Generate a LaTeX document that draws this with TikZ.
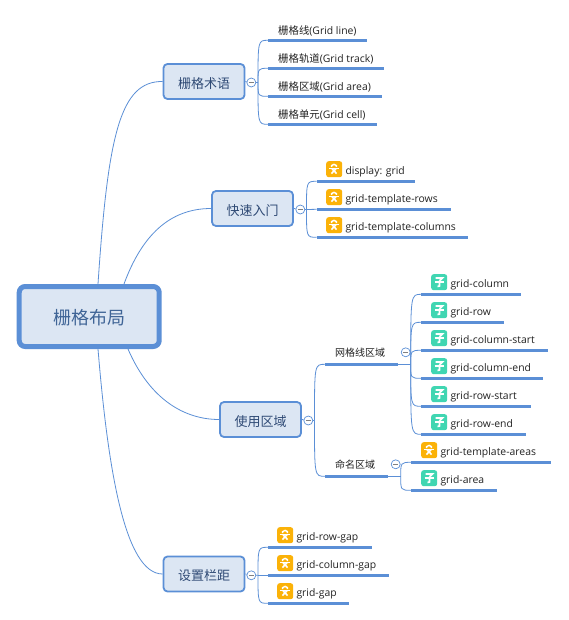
\documentclass[tikz,border=0pt]{standalone}
\usepackage{fontspec}
\setmainfont{Open Sans}
\newfontfamily\cjk{Noto Sans CJK SC}
\definecolor{linkblue}{HTML}{5B8FD6}
\definecolor{boxfill}{HTML}{DCE6F3}
\definecolor{roottext}{HTML}{3F6496}
\definecolor{topictext}{HTML}{2F4A75}
\definecolor{leaftext}{HTML}{222222}
\definecolor{iconorange}{HTML}{FBB208}
\definecolor{icongreen}{HTML}{40D6B2}
\tikzset{
  x=1pt,y=-1pt,
  rootbox/.style={draw=linkblue,fill=boxfill,line width=5pt,rounded corners=6pt,minimum width=140pt,minimum height=60pt,inner sep=0pt,text=roottext,text height=18pt,text depth=2.3pt,font=\cjk\fontsize{18}{20}\selectfont},
  topicbox/.style={draw=linkblue,fill=boxfill,line width=1.8pt,rounded corners=4pt,minimum width=81pt,minimum height=35pt,inner sep=0pt,text=topictext,text height=15.2pt,text depth=2pt,font=\cjk\fontsize{13}{15}\selectfont},
  conn/.style={draw=linkblue,line width=0.8pt},
  under/.style={draw=linkblue,line width=2.8pt},
  toggle/.style={circle,draw=linkblue,fill=white,line width=0.7pt,minimum size=9pt,inner sep=0pt},
  minusbar/.style={draw=gray,line width=0.7pt},
  leaflabel/.style={anchor=west,inner sep=0pt,yshift=-1.5pt,text=leaftext,font=\fontsize{10.4}{12}\selectfont},
  grouplabel/.style={anchor=west,inner sep=0pt,text=leaftext,font=\cjk\fontsize{10}{12}\selectfont},
  iconbox/.style={rounded corners=2.5pt,minimum size=16pt,inner sep=0pt,anchor=north west},
  glyph/.style={draw=white,line width=1.6pt},
}
\newcommand{\leafitem}[7]{%
  \node[leaflabel] (#1) at (#2,#3) {#7};
  \coordinate (#1s) at (#4,#6);
  \coordinate (#1e) at (#5,#6);
  \draw[under] (#1s) -- (#1e);
}
\newcommand{\orangeicon}[3]{%
  \node[iconbox,fill=iconorange] (#1) at (#2,#3) {};
  \begin{scope}[shift={(#2,#3)}]
    \draw[glyph,line width=1.4pt] (5.6,6) -- (5.6,4.6) -- (8,3.4) -- (10.4,4.6) -- (10.4,6);
    \draw[glyph] (3,7.6) -- (13,7.6);
    \draw[glyph] (6,7.6) -- (10.6,12.6) (10,7.6) -- (5.4,12.6);
  \end{scope}
}
\newcommand{\greenicon}[3]{%
  \node[iconbox,fill=icongreen] (#1) at (#2,#3) {};
  \begin{scope}[shift={(#2,#3)}]
    \draw[glyph] (4.5,4) -- (11.5,4) -- (8.5,6.8);
    \draw[glyph] (3.5,8) -- (12.5,8);
    \draw[glyph] (8.5,6.8) -- (8.5,12) -- (6.5,12.5);
  \end{scope}
}
\newcommand{\fork}[2]{\draw[conn] (#1) .. controls (#1|-#2) .. (#2);}
\newcommand{\togglemark}[1]{\draw[minusbar] ([xshift=-2.5pt]#1.center) -- ([xshift=2.5pt]#1.center);}
\begin{document}
\begin{tikzpicture}
\useasboundingbox (0,0) rectangle (568,620);
\fill[white] (0,0) rectangle (568,620);

% main topics
\node[rootbox] (root) at (89.2,316.5) {栅格布局};
\node[topicbox] (terms) at (204,81.5) {栅格术语};
\node[topicbox] (quick) at (252.5,208.5) {快速入门};
\node[topicbox] (area) at (260.5,419.5) {使用区域};
\node[topicbox] (gap) at (204,574) {设置栏距};

% root links
\coordinate (r1) at (98,284);
\coordinate (r2) at (124,284);
\coordinate (r3) at (128,349);
\coordinate (r4) at (98,349);
\draw[conn] (r1) .. controls (108,135) and (120,81) .. (terms.west);
\draw[conn] (r2) .. controls (142,235) and (170,208.5) .. (quick.west);
\draw[conn] (r3) .. controls (150,400) and (185,419.5) .. (area.west);
\draw[conn] (r4) .. controls (108,470) and (125,574) .. (gap.west);

% ---- terms
\coordinate (f1) at (258,82.5);
\node[toggle] (t1) at (251.3,82.5) {};
\leafitem{a1}{278}{29.3}{268}{367}{40.3}{{\cjk 栅格线}(Grid line)}
\leafitem{a2}{278}{57.3}{268}{383.5}{68.3}{{\cjk 栅格轨道}(Grid track)}
\leafitem{a3}{278}{85.3}{268}{381.5}{96.3}{{\cjk 栅格区域}(Grid area)}
\leafitem{a4}{278}{113.3}{268}{376.5}{124.3}{{\cjk 栅格单元}(Grid cell)}
\draw[conn] (terms.east) -- (t1) -- (f1);
\togglemark{t1}
\fork{f1}{a1s}\fork{f1}{a2s}\fork{f1}{a3s}\fork{f1}{a4s}

% ---- quick
\coordinate (f2) at (306.5,209.5);
\node[toggle] (t2) at (300.3,209.5) {};
\orangeicon{i1}{326}{161}
\orangeicon{i2}{326}{189}
\orangeicon{i3}{326}{217}
\leafitem{b1}{345.3}{170}{316.7}{415}{181.3}{display: grid}
\leafitem{b2}{345.3}{198}{316.7}{451.3}{209.3}{grid-template-rows}
\leafitem{b3}{345.3}{226}{316.7}{468}{237.3}{grid-template-columns}
\draw[conn] (quick.east) -- (t2) -- (f2);
\togglemark{t2}
\fork{f2}{b1s}\draw[conn] (f2) -- (b2s);\fork{f2}{b3s}

% ---- area
\coordinate (f3) at (314.5,420.5);
\node[toggle] (t3) at (308.3,420.5) {};
\node[grouplabel] (g1) at (335,353) {网格线区域};
\node[grouplabel] (g2) at (335,465) {命名区域};
\coordinate (g1s) at (325,364.3); \coordinate (g1e) at (397.7,364.3);
\coordinate (g2s) at (325,476.3); \coordinate (g2e) at (387.7,476.3);
\draw[under] (g1s) -- (g1e);
\draw[under] (g2s) -- (g2e);
\draw[conn] (area.east) -- (t3) -- (f3);
\togglemark{t3}
\fork{f3}{g1s}\fork{f3}{g2s}

% ---- grid lines group
\coordinate (f4) at (410.7,364.3);
\node[toggle] (t4) at (405.7,352.3) {};
\togglemark{t4}
\draw[conn] (g1e) -- (f4);
\greenicon{j1}{431}{274}
\greenicon{j2}{431}{302}
\greenicon{j3}{431}{330}
\greenicon{j4}{431}{358}
\greenicon{j5}{431}{386}
\greenicon{j6}{431}{414}
\leafitem{c1}{450.3}{283}{421.3}{520.7}{294.3}{grid-column}
\leafitem{c2}{450.3}{311}{421.3}{503.7}{322.3}{grid-row}
\leafitem{c3}{450.3}{339}{421.3}{547.7}{350.3}{grid-column-start}
\leafitem{c4}{450.3}{367}{421.3}{542.7}{378.3}{grid-column-end}
\leafitem{c5}{450.3}{395}{421.3}{530.7}{406.3}{grid-row-start}
\leafitem{c6}{450.3}{423}{421.3}{525.7}{434.3}{grid-row-end}
\fork{f4}{c1s}\fork{f4}{c2s}\fork{f4}{c3s}\fork{f4}{c4s}\fork{f4}{c5s}\fork{f4}{c6s}

% ---- named group
\coordinate (f5) at (400.7,476.3);
\node[toggle] (t5) at (395.7,464.3) {};
\togglemark{t5}
\draw[conn] (g2e) -- (f5);
\orangeicon{k1}{421}{442}
\greenicon{k2}{421}{470}
\leafitem{d1}{440.3}{451}{411.3}{550.7}{462.3}{grid-template-areas}
\leafitem{d2}{440.3}{479}{411.3}{497.3}{490.3}{grid-area}
\fork{f5}{d1s}\fork{f5}{d2s}

% ---- gap
\coordinate (f6) at (258,575.3);
\node[toggle] (t6) at (251.3,575.3) {};
\orangeicon{m1}{277}{527}
\orangeicon{m2}{277}{555}
\orangeicon{m3}{277}{583}
\leafitem{e1}{296.3}{536}{268}{371.7}{547.3}{grid-row-gap}
\leafitem{e2}{296.3}{564}{268}{388.7}{575.3}{grid-column-gap}
\leafitem{e3}{296.3}{592}{268}{349.3}{603.3}{grid-gap}
\draw[conn] (gap.east) -- (t6) -- (f6);
\togglemark{t6}
\fork{f6}{e1s}\draw[conn] (f6) -- (e2s);\fork{f6}{e3s}
\end{tikzpicture}
\end{document}
